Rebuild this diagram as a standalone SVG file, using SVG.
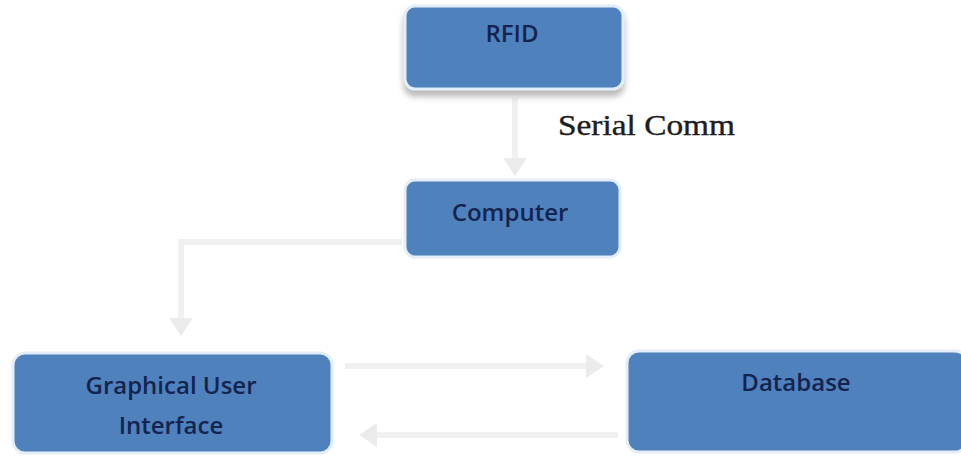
<svg xmlns="http://www.w3.org/2000/svg" width="961" height="466" viewBox="0 0 961 466">
<style>
.box{fill:#4f81bd;stroke:#e4eefa;stroke-width:3}
.lbl{font-family:"Open Sans","Noto Sans",sans-serif;font-size:24px;font-weight:600;fill:#14244f;text-anchor:middle}
.conn{fill:none;stroke:#f0f0f0;stroke-width:6}
</style>
<defs>
<marker id="ah" markerWidth="4" markerHeight="4" refX="2" refY="2" orient="auto" markerUnits="strokeWidth">
<path d="M0,0 L3,2 L0,4 z" fill="#ebebeb"/>
</marker>
<filter id="sh" x="-10%" y="-10%" width="120%" height="140%">
<feDropShadow dx="0" dy="6" stdDeviation="3" flood-color="#9a9a9a" flood-opacity="0.7"/>
</filter>
</defs>
<rect width="961" height="466" fill="#ffffff"/>
<g id="connectors">
<path class="conn" d="M515,98 L515,170" marker-end="url(#ah)"/>
<path class="conn" d="M402,242 L181,242 L181,330" marker-end="url(#ah)"/>
<path class="conn" d="M345,366 L598,366" marker-end="url(#ah)"/>
<path class="conn" d="M618,435 L365,435" marker-end="url(#ah)"/>
<text x="558" y="135" font-family="Liberation Serif,serif" font-size="30" fill="#1e1e1e" stroke="#1e1e1e" stroke-width="0.4" textLength="177" lengthAdjust="spacingAndGlyphs">Serial Comm</text>
</g>
<g id="rfid">
<rect class="box" x="405" y="6" width="218" height="83" rx="10" filter="url(#sh)"/>
<text class="lbl" x="512" y="42">RFID</text>
</g>
<g id="computer">
<rect class="box" x="405" y="180" width="215" height="77" rx="10"/>
<text class="lbl" x="510" y="221">Computer</text>
</g>
<g id="gui">
<rect class="box" x="13" y="353" width="319" height="100" rx="12"/>
<text class="lbl" x="171" y="394">Graphical User</text>
<text class="lbl" x="171" y="434">Interface</text>
</g>
<g id="database">
<rect class="box" x="627" y="351" width="340" height="101" rx="12"/>
<text class="lbl" x="796" y="391">Database</text>
</g>
</svg>
